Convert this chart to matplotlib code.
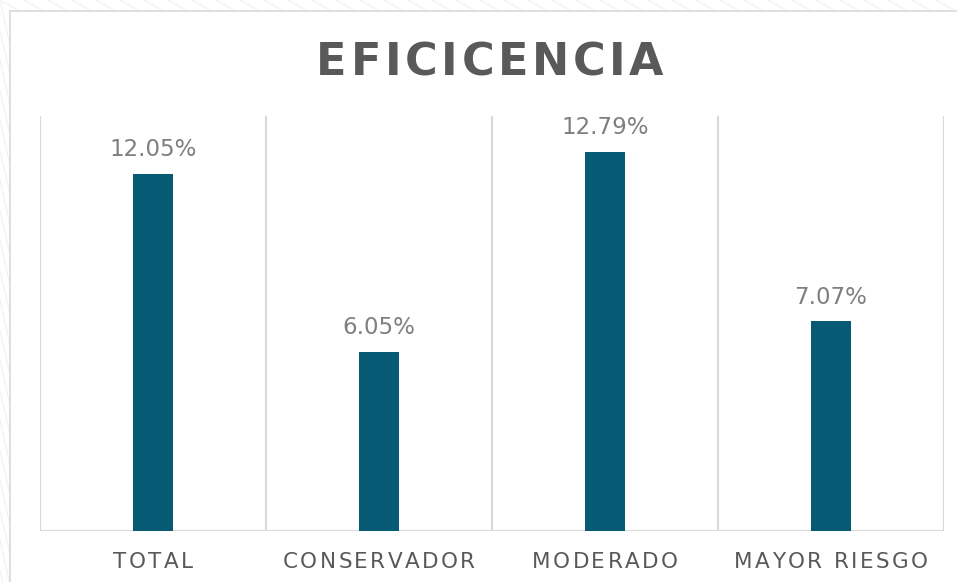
import matplotlib

matplotlib.use('Agg')
import matplotlib.pyplot as plt
from matplotlib.patches import Rectangle


categories = ['TOTAL', 'CONSERVADOR', 'MODERADO', 'MAYOR RIESGO']
values = [12.05, 6.05, 12.79, 7.07]
value_labels = ['12.05%', '6.05%', '12.79%', '7.07%']
title = 'EFICICENCIA'

BAR = '#065a74'
GRID = '#d9d9d9'
TITLE_C = '#595959'
LABEL_C = '#7f7f7f'

W, H = 957, 582


def spaced_text(fig, x_px, y_px, text, spacing, **kw):
    # draw text letter by letter with extra tracking, centred on x_px (pixels, from top-left)
    renderer = fig.canvas.get_renderer()
    widths = []
    for ch in text:
        t = fig.text(0, 0, ch if ch != ' ' else 'n', **kw)
        w = t.get_window_extent(renderer).width
        widths.append(w * 0.5 if ch == ' ' else w)
        t.remove()
    total = sum(widths) + spacing * (len(text) - 1)
    x = x_px - total / 2
    for ch, w in zip(text, widths):
        if ch != ' ':
            fig.text(x / W, 1 - y_px / H, ch, ha='left', va='baseline', **kw)
        x += w + spacing


fig = plt.figure(figsize=(W / 100, H / 100), dpi=100)
fig.patch.set_facecolor('white')

# faint decorative background lines behind the chart frame
bg = fig.add_axes([0, 0, 1, 1])
bg.set_xlim(0, W)
bg.set_ylim(H, 0)
bg.axis('off')
for i in range(-10, 50):
    x0 = i * 24
    bg.plot([x0, x0 + 25], [0, 14], color='#f0f4f7', linewidth=1, zorder=0)
for i in range(0, 30):
    y0 = i * 30
    bg.plot([0, 10], [y0, y0 + 45], color='#f0f4f7', linewidth=1, zorder=0)
bg.add_patch(Rectangle((10, 11), W, H, facecolor='white', edgecolor=GRID, linewidth=1.2, zorder=1))

ax = fig.add_axes([40 / W, (H - 531) / H, 904 / W, 415 / H])
ax.set_facecolor('none')
xs = range(len(categories))
ax.bar(xs, values, width=0.18, color=BAR, zorder=3)
ax.set_xlim(-0.5, len(categories) - 0.5)
ax.set_ylim(0, 14)

for b in [i - 0.5 for i in range(len(categories) + 1)]:
    ax.axvline(b, color=GRID, linewidth=1.5, zorder=1)
for s in ax.spines.values():
    s.set_visible(False)
ax.axhline(0, color=GRID, linewidth=1.5, zorder=2)
ax.set_xticks([])
ax.set_yticks([])

for x, v, lab in zip(xs, values, value_labels):
    ax.annotate(lab, (x, v), xytext=(0, 9), textcoords='offset points',
                ha='center', va='bottom', fontsize=16.5, color=LABEL_C,
                family='DejaVu Sans')

# category labels with tracking
for x, cat in zip(xs, categories):
    px = 40 + (x + 0.5) * 904 / len(categories)
    spaced_text(fig, px, 568, cat, 2.4, fontsize=15.5, color=TITLE_C, family='DejaVu Sans')

spaced_text(fig, 490, 75, title, 3.6, fontsize=32, fontweight='bold', color=TITLE_C, family='DejaVu Sans')

fig.savefig('out.png', dpi=100, facecolor='white')
